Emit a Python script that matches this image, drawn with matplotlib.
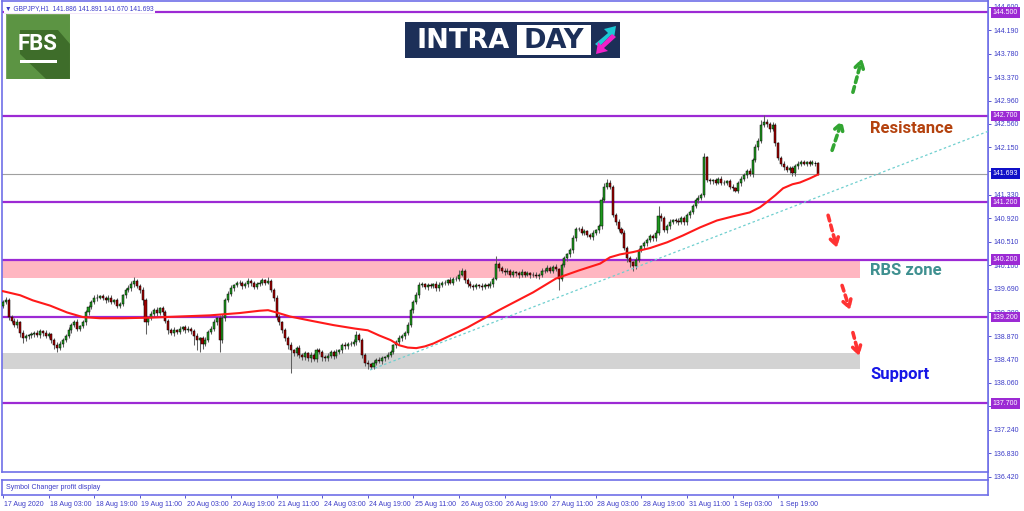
import matplotlib
matplotlib.use("Agg")
import matplotlib.pyplot as plt
from matplotlib.patches import Rectangle, Polygon
from matplotlib.transforms import blended_transform_factory, ScaledTranslation

# ---- data ----
first_open = 139.40
closes = [
    139.46, 139.49, 139.21, 139.14, 139.06, 139.11, 138.92, 138.83, 138.87, 138.88,
    138.90, 138.92, 138.88, 138.95, 138.92, 138.87, 138.90, 138.80, 138.71, 138.67,
    138.73, 138.80, 138.87, 138.97, 139.06, 139.11, 139.00, 139.04, 139.11, 139.28,
    139.37, 139.46, 139.53, 139.54, 139.56, 139.53, 139.49, 139.54, 139.47, 139.49,
    139.40, 139.42, 139.58, 139.67, 139.70, 139.77, 139.82, 139.74, 139.67, 139.49,
    139.11, 139.18, 139.25, 139.32, 139.27, 139.35, 139.28, 139.14, 138.97, 138.92,
    138.97, 138.94, 139.00, 139.02, 138.97, 139.00, 138.95, 138.87, 138.80, 138.83,
    138.74, 138.80, 138.94, 139.00, 139.11, 139.18, 138.80, 139.18, 139.49, 139.61,
    139.70, 139.75, 139.79, 139.80, 139.74, 139.77, 139.82, 139.79, 139.72, 139.77,
    139.80, 139.84, 139.80, 139.82, 139.67, 139.53, 139.21, 139.11, 138.97, 138.83,
    138.71, 138.62, 138.57, 138.66, 138.54, 138.50, 138.57, 138.48, 138.54, 138.47,
    138.62, 138.59, 138.50, 138.48, 138.52, 138.59, 138.52, 138.59, 138.62, 138.71,
    138.69, 138.74, 138.73, 138.76, 138.88, 138.80, 138.54, 138.41, 138.38, 138.34,
    138.41, 138.45, 138.43, 138.48, 138.50, 138.54, 138.59, 138.71, 138.76, 138.83,
    138.87, 138.92, 139.06, 139.32, 139.46, 139.58, 139.75, 139.77, 139.72, 139.75,
    139.74, 139.77, 139.70, 139.75, 139.79, 139.80, 139.84, 139.80, 139.86, 139.87,
    139.94, 140.00, 139.84, 139.77, 139.74, 139.72, 139.75, 139.74, 139.72, 139.75,
    139.74, 139.77, 139.87, 140.12, 140.05, 140.01, 139.98, 140.01, 139.94, 139.98,
    139.96, 139.93, 139.98, 139.94, 139.96, 139.93, 139.94, 139.91, 139.94, 140.00,
    140.01, 140.05, 140.01, 140.07, 140.03, 139.87, 140.10, 140.22, 140.29, 140.36,
    140.57, 140.73, 140.74, 140.67, 140.69, 140.62, 140.59, 140.66, 140.71, 140.78,
    141.23, 141.47, 141.54, 141.47, 140.97, 140.85, 140.74, 140.67, 140.40, 140.22,
    140.15, 140.08, 140.19, 140.36, 140.43, 140.48, 140.54, 140.61, 140.57, 140.67,
    140.95, 140.92, 140.71, 140.78, 140.85, 140.88, 140.87, 140.85, 140.92, 140.85,
    140.97, 141.02, 141.14, 141.23, 141.27, 141.32, 141.98, 141.58, 141.56, 141.58,
    141.54, 141.60, 141.54, 141.53, 141.56, 141.47, 141.44, 141.40, 141.53, 141.60,
    141.67, 141.74, 141.68, 141.93, 142.15, 142.27, 142.54, 142.60, 142.55, 142.47,
    142.54, 142.22, 141.96, 141.87, 141.81, 141.75, 141.79, 141.70, 141.82, 141.87,
    141.89, 141.87, 141.89, 141.87, 141.89, 141.886, 141.693,
]
# wick lengths above / below the body, in pips
up_wick = [
    4, 6, 5, 3, 4, 6, 3, 5, 4, 3,   4, 3, 5, 4, 3, 5, 4, 3, 4, 5,
    6, 3, 4, 5, 3, 4, 6, 3, 4, 5,   4, 3, 5, 6, 3, 4, 3, 5, 4, 3,
    4, 5, 3, 4, 6, 5, 8, 4, 3, 5,   4, 3, 5, 4, 6, 3, 4, 5, 3, 4,
    5, 3, 4, 3, 5, 4, 3, 4, 5, 3,   4, 5, 3, 4, 6, 3, 5, 8, 4, 5,
    6, 3, 4, 5, 3, 4, 6, 5, 3, 4,   5, 4, 3, 8, 4, 3, 5, 4, 3, 4,
    4, 5, 3, 4, 6, 3, 4, 3, 5, 4,   5, 4, 3, 4, 5, 3, 4, 6, 3, 4,
    5, 3, 4, 6, 8, 4, 3, 4, 5, 3,   4, 3, 5, 4, 3, 5, 4, 3, 4, 5,
    3, 4, 5, 3, 4, 5, 6, 4, 3, 5,   4, 3, 5, 6, 3, 4, 3, 5, 4, 5,
    8, 6, 3, 4, 5, 3, 4, 3, 5, 4,   4, 5, 3, 15, 4, 3, 5, 4, 3, 4,
    3, 4, 5, 3, 4, 3, 5, 4, 3, 5,   4, 5, 3, 4, 5, 3, 4, 5, 3, 4,
    5, 4, 3, 5, 4, 3, 4, 5, 3, 4,   5, 6, 6, 4, 3, 4, 5, 3, 4, 3,
    4, 3, 5, 4, 3, 5, 4, 3, 4, 5,   19, 6, 3, 4, 5, 3, 4, 5, 3, 4,
    4, 5, 3, 4, 5, 4, 7, 3, 4, 3,   4, 3, 5, 4, 3, 4, 5, 3, 4, 5,
    4, 3, 5, 4, 6, 5, 8, 11, 5, 4,  6, 4, 3, 5, 4, 3, 4, 3, 5, 4,
    4, 5, 3, 4, 5, 3, 0.5,
]
down_wick = [
    5, 4, 6, 5, 4, 5, 6, 8, 4, 5,   4, 5, 3, 4, 5, 4, 3, 5, 6, 8,
    4, 5, 3, 4, 5, 3, 4, 5, 3, 4,   5, 3, 4, 5, 3, 4, 5, 3, 4, 5,
    4, 5, 3, 4, 3, 5, 4, 3, 5, 8,   20, 5, 3, 4, 5, 3, 4, 5, 6, 4,
    5, 4, 3, 5, 4, 3, 5, 15, 18, 20, 10, 5, 4, 3, 5, 4, 20, 5, 4, 3,
    4, 5, 3, 4, 5, 3, 4, 5, 3, 4,   3, 4, 5, 3, 4, 5, 6, 5, 4, 5,
    6, 40, 5, 4, 6, 5, 4, 5, 6, 4,  5, 4, 6, 5, 4, 3, 5, 4, 3, 4,
    5, 4, 3, 4, 5, 4, 5, 6, 8, 5,   4, 5, 3, 4, 5, 3, 4, 3, 4, 5,
    4, 5, 3, 4, 5, 3, 4, 3, 4, 5,   4, 3, 5, 4, 3, 4, 5, 3, 4, 3,
    4, 3, 5, 4, 3, 5, 4, 3, 5, 4,   3, 4, 5, 3, 4, 5, 4, 3, 4, 5,
    4, 5, 3, 4, 3, 5, 4, 3, 4, 5,   4, 3, 5, 4, 3, 20, 4, 3, 5, 4,
    5, 4, 3, 5, 4, 3, 4, 5, 3, 4,   4, 3, 5, 4, 3, 4, 5, 3, 4, 6,
    8, 7, 5, 4, 3, 5, 4, 3, 4, 5,   4, 5, 3, 4, 5, 3, 4, 5, 3, 4,
    4, 5, 3, 4, 5, 3, 4, 3, 4, 5,   4, 3, 5, 4, 3, 4, 5, 3, 4, 5,
    4, 5, 3, 4, 3, 4, 5, 3, 4, 5,   4, 5, 3, 4, 5, 3, 4, 5, 4, 5,
    4, 3, 5, 4, 3, 5, 2.3,
]

# moving average (red line) sampled along the chart
ma_bars = [0, 6, 10.5, 16.5, 22.5, 28, 34, 42, 51.6, 62, 72.6, 83, 90, 93, 96,
           100.7, 107.7, 116, 123.5, 128, 132, 136, 139, 142, 145, 148, 151, 157,
           163, 174, 186, 194, 202, 209.5, 213, 216.5, 221, 227, 233, 238.6,
           244.6, 250.5, 256, 262, 265.6, 268, 271, 273.7, 277, 279.6, 283, 286]
ma_vals = [139.65, 139.58, 139.49, 139.40, 139.28, 139.20, 139.18, 139.18, 139.19,
           139.21, 139.23, 139.27, 139.31, 139.32, 139.28, 139.21, 139.14, 139.06,
           139.00, 138.97, 138.88, 138.80, 138.71, 138.67, 138.66, 138.69, 138.74,
           138.88, 139.02, 139.32, 139.63, 139.87, 140.01, 140.13, 140.24, 140.29,
           140.33, 140.40, 140.50, 140.62, 140.76, 140.88, 140.95, 141.02, 141.11,
           141.20, 141.32, 141.44, 141.51, 141.54, 141.61, 141.68]

levels = [144.5, 142.7, 141.2, 140.2, 139.2, 137.7]
rbs_zone = (139.88, 140.20)
support_zone = (138.29, 138.57)
trend_bars = [128.8, 345.6]
trend_vals = [138.28, 142.43]
last_price = 141.693

price_ticks = [144.600, 144.190, 143.780, 143.370, 142.960, 142.560, 142.150,
               141.740, 141.330, 140.920, 140.510, 140.100, 139.690, 139.280,
               138.870, 138.470, 138.060, 137.650, 137.240, 136.830, 136.420]
time_labels = ["17 Aug 2020", "18 Aug 03:00", "18 Aug 19:00", "19 Aug 11:00",
               "20 Aug 03:00", "20 Aug 19:00", "21 Aug 11:00", "24 Aug 03:00",
               "24 Aug 19:00", "25 Aug 11:00", "26 Aug 03:00", "26 Aug 19:00",
               "27 Aug 11:00", "28 Aug 03:00", "28 Aug 19:00", "31 Aug 11:00",
               "1 Sep 03:00", "1 Sep 19:00"]
bars_per_label = 16

PURPLE = "#9c2ad4"
FRAME = "#6f6fe8"
AXIS_TXT = "#3c3cc8"
SMALL = ["Liberation Sans", "DejaVu Sans"]

W, H = 1024, 511
PX_PER_PRICE = 57.5
TOP_PRICE = 144.697
fig = plt.figure(figsize=(W / 100, H / 100), dpi=100)


def fbox(left, top, right, bottom):
    """pixel box (from top-left) -> figure fraction rect"""
    return [left / W, 1 - bottom / H, (right - left) / W, (bottom - top) / H]


# price scale column runs a little below the chart window, like MT4
axp = fig.add_axes(fbox(2, 1, 988, 480))
ax = fig.add_axes(fbox(2, 1, 988, 472))
ax2 = fig.add_axes(fbox(2, 480, 988, 495))

n = len(closes)
opens = [first_open] + closes[:-1]
xmin, xmax = -0.35, 345.6

# zones
ax.add_patch(Rectangle((xmin, rbs_zone[0]), 300.7 - xmin, rbs_zone[1] - rbs_zone[0],
                       facecolor="#ffb6c1", edgecolor="none", zorder=0.5))
ax.add_patch(Rectangle((xmin, support_zone[0]), 300.7 - xmin,
                       support_zone[1] - support_zone[0],
                       facecolor="#d3d3d3", edgecolor="none", zorder=0.5))

# level lines
for lv in levels:
    ax.axhline(lv, color=PURPLE, lw=1.6, zorder=1)
ax.axhline(last_price, color="#a0a0a0", lw=0.8, zorder=1)

# candles
for i in range(n):
    o, c = opens[i], closes[i]
    top, bot = max(o, c), min(o, c)
    hi = top + up_wick[i] / 100
    lo = bot - down_wick[i] / 100
    ax.vlines(i, lo, hi, color="#606060", lw=0.75, zorder=2)
    if top - bot < 0.004:
        ax.hlines(c, i - 0.38, i + 0.38, color="black", lw=0.7, zorder=3)
    else:
        col = "#1f9a1f" if c >= o else "#a00000"
        ax.bar(i, top - bot, bottom=bot, width=0.72, color=col,
               edgecolor="black", linewidth=0.35, zorder=3)

# moving average and trend line
ax.plot(ma_bars, ma_vals, color="#ff1a1a", lw=1.5, zorder=4,
        solid_joinstyle="round")
ax.plot(trend_bars, trend_vals, color="#6fcfcf", lw=0.9, ls=(0, (2, 2)), zorder=4)

# dashed arrows
arrows = [
    ((298.2, 143.11), (301.4, 143.70), "#32a532"),
    ((290.9, 142.10), (294.4, 142.62), "#32a532"),
    ((289.5, 140.97), (292.6, 140.40), "#ff3333"),
    ((294.4, 139.75), (297.2, 139.32), "#ff3333"),
    ((298.2, 138.93), (300.4, 138.52), "#ff3333"),
]
for tail, tip, col in arrows:
    ax.annotate("", xy=tip, xytext=tail,
                arrowprops=dict(arrowstyle="->,head_length=0.5,head_width=0.3",
                                color=col, lw=2.6, ls=(0, (1.6, 1.2)),
                                shrinkA=0, shrinkB=0), zorder=5)

# annotations
ax.text(304.2, 142.48, "Resistance", color="#b4420e", fontsize=12,
        fontweight="bold", family="Roboto", va="center", ha="left", zorder=6)
ax.text(304.2, 140.01, "RBS zone", color="#3f9090", fontsize=12,
        fontweight="bold", family="Roboto", va="center", ha="left", zorder=6)
ax.text(304.2, 138.21, "Support", color="#1616e6", fontsize=12,
        fontweight="bold", family="Roboto", va="center", ha="left", zorder=6)

ax.set_xlim(xmin, xmax)
ax.set_ylim(TOP_PRICE - 471 / PX_PER_PRICE, TOP_PRICE)
ax.set_xticks([])
ax.set_yticks([])
for sp in ax.spines.values():
    sp.set_color(FRAME)
    sp.set_linewidth(1.2)

# right price scale
axp.set_xlim(xmin, xmax)
axp.set_xticks([])
axp.yaxis.tick_right()
axp.set_yticks(price_ticks)
axp.set_yticklabels([f"{p:.3f}" for p in price_ticks])
axp.set_ylim(TOP_PRICE - 479 / PX_PER_PRICE, TOP_PRICE)
axp.tick_params(axis="y", colors=AXIS_TXT, labelsize=5, length=2, width=0.6, pad=2)
for lab in axp.get_yticklabels():
    lab.set_family(SMALL)
axp.patch.set_visible(False)
for name, sp in axp.spines.items():
    sp.set_visible(name == "right")
    sp.set_color(FRAME)
    sp.set_linewidth(1.2)

trans = blended_transform_factory(ax.transAxes, ax.transData)
for lv in levels:
    ax.text(1.005, lv, f"{lv:.3f}", transform=trans, color="white", fontsize=5,
            family=SMALL, va="center", ha="left", clip_on=False, zorder=10,
            bbox=dict(boxstyle="square,pad=0.25", fc=PURPLE, ec="none"))
ax.text(1.005, last_price, f"{last_price:.3f}", transform=trans, color="white",
        fontsize=5, family=SMALL, va="center", ha="left", clip_on=False, zorder=10,
        bbox=dict(boxstyle="square,pad=0.25", fc="#1010c8", ec="none"))

# header
ax.text(0.003, 0.992, "\u25bc GBPJPY,H1  141.886 141.891 141.670 141.693",
        transform=ax.transAxes, color=AXIS_TXT, fontsize=4.8, family=SMALL,
        va="top", ha="left", zorder=10,
        bbox=dict(boxstyle="square,pad=0.2", fc="white", ec="none"))

# indicator sub window + time scale
ax2.set_xlim(xmin, xmax)
ax2.set_ylim(0, 1)
ax2.set_yticks([])
ax2.text(0.004, 0.5, "Symbol Changer profit display", transform=ax2.transAxes,
         color=AXIS_TXT, fontsize=5, family=SMALL, va="center", ha="left")
for sp in ax2.spines.values():
    sp.set_color(FRAME)
    sp.set_linewidth(1.2)
tick_pos = [k * bars_per_label for k in range(len(time_labels))]
ax2.set_xticks(tick_pos)
ax2.set_xticklabels(time_labels)
ax2.tick_params(axis="x", colors=AXIS_TXT, labelsize=5, length=2.5, width=0.6, pad=2)
offset = ScaledTranslation(1.5 / 100, 0, fig.dpi_scale_trans)
for lab in ax2.get_xticklabels():
    lab.set_ha("left")
    lab.set_family(SMALL)
    lab.set_transform(lab.get_transform() + offset)

# FBS logo
lg = fig.add_axes(fbox(6, 14, 70, 79))
lg.set_xlim(0, 64)
lg.set_ylim(65, 0)
lg.axis("off")
lg.add_patch(Rectangle((0, 0), 64, 65, fc="#5c9443", ec="none"))
lg.add_patch(Polygon([(14, 16), (52, 16), (64, 30), (64, 65), (40, 65), (14, 40)],
                     closed=True, fc="#3e6d2a", ec="none"))
lg.add_patch(Rectangle((0, 0), 64, 65, fc="none", ec="#7aa860", lw=0.8))
lg.text(32, 30, "FBS", color="white", fontsize=16, fontweight="bold",
        family="Roboto", ha="center", va="center")
lg.add_patch(Rectangle((14, 46), 37, 3, fc="white", ec="none"))

# INTRADAY logo
it = fig.add_axes(fbox(405, 22, 620, 58))
it.set_xlim(0, 215)
it.set_ylim(36, 0)
it.axis("off")
it.add_patch(Rectangle((0, 0), 215, 36, fc="#1c2f58", ec="none"))
it.add_patch(Rectangle((112, 3), 74, 30, fc="white", ec="none"))
it.text(58, 18.5, "INTRA", color="white", fontsize=19.5, fontweight="bold",
        family="DejaVu Sans", ha="center", va="center")
it.text(149, 18.5, "DAY", color="#1c2f58", fontsize=19.5, fontweight="bold",
        family="DejaVu Sans", ha="center", va="center")
it.add_patch(Polygon([(190, 22), (203, 11), (199, 7), (211, 4), (209, 16),
                      (206, 13), (194, 25)], closed=True, fc="#1cc8d4", ec="none"))
it.add_patch(Polygon([(211, 15), (199, 26), (203, 29), (191, 32), (193, 20),
                      (196, 23), (207, 12)], closed=True, fc="#f021c8", ec="none"))

fig.savefig("out.png", dpi=100)
